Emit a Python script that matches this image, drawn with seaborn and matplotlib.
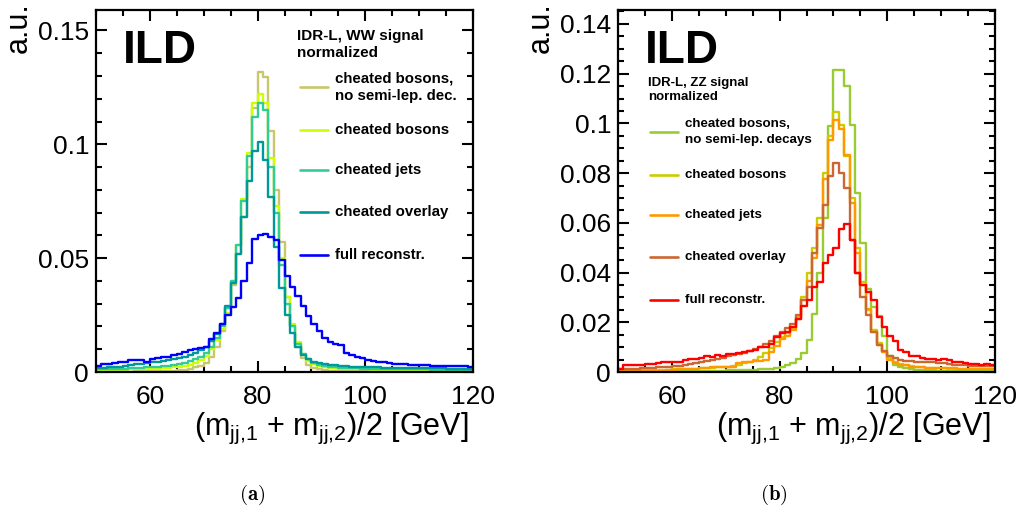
import numpy as np
import pandas as pd
import matplotlib
matplotlib.use("Agg")
import matplotlib.pyplot as plt
from matplotlib.lines import Line2D
from matplotlib.ticker import MultipleLocator, FuncFormatter
import seaborn as sns

# bin lower edges (1 GeV bins from 50 to 120)
bin_edges = list(range(50, 121))

# --- WW signal (panel a) ---
ww_nosemi = [0.0002, 0.0002, 0.0002, 0.0002, 0.0002, 0.0002, 0.0002, 0.0003, 0.0003, 0.0003,
             0.0003, 0.0004, 0.0004, 0.0005, 0.0006, 0.0008, 0.0010, 0.0014, 0.0020, 0.0028,
             0.0040, 0.0065, 0.0110, 0.0180, 0.0280, 0.0380, 0.0520, 0.0680, 0.0900, 0.1160,
             0.1317, 0.1295, 0.1060, 0.0800, 0.0570, 0.0330, 0.0200, 0.0110, 0.0060, 0.0030,
             0.0018, 0.0012, 0.0008, 0.0006, 0.0005, 0.0004, 0.0004, 0.0003, 0.0003, 0.0003,
             0.0003, 0.0003, 0.0003, 0.0003, 0.0003, 0.0003, 0.0003, 0.0003, 0.0003, 0.0003,
             0.0002, 0.0002, 0.0002, 0.0002, 0.0002, 0.0002, 0.0002, 0.0002, 0.0002, 0.0002]
ww_bosons = [0.0008, 0.0008, 0.0009, 0.0009, 0.0010, 0.0010, 0.0011, 0.0011, 0.0012, 0.0013,
             0.0014, 0.0015, 0.0016, 0.0018, 0.0020, 0.0023, 0.0027, 0.0032, 0.0040, 0.0052,
             0.0070, 0.0100, 0.0140, 0.0190, 0.0260, 0.0400, 0.0560, 0.0760, 0.0960, 0.1180,
             0.1222, 0.1180, 0.0940, 0.0730, 0.0500, 0.0330, 0.0210, 0.0130, 0.0080, 0.0050,
             0.0035, 0.0028, 0.0022, 0.0019, 0.0017, 0.0015, 0.0014, 0.0013, 0.0012, 0.0011,
             0.0011, 0.0010, 0.0010, 0.0010, 0.0009, 0.0009, 0.0009, 0.0009, 0.0008, 0.0008,
             0.0008, 0.0008, 0.0008, 0.0008, 0.0007, 0.0007, 0.0007, 0.0007, 0.0007, 0.0007]
ww_jets = [0.0012, 0.0012, 0.0013, 0.0013, 0.0014, 0.0015, 0.0016, 0.0017, 0.0018, 0.0020,
           0.0021, 0.0023, 0.0025, 0.0028, 0.0031, 0.0035, 0.0040, 0.0047, 0.0056, 0.0068,
           0.0085, 0.0110, 0.0150, 0.0200, 0.0280, 0.0400, 0.0560, 0.0750, 0.0950, 0.1120,
           0.1180, 0.1150, 0.0900, 0.0700, 0.0470, 0.0300, 0.0200, 0.0125, 0.0080, 0.0055,
           0.0040, 0.0032, 0.0027, 0.0024, 0.0021, 0.0019, 0.0018, 0.0017, 0.0016, 0.0015,
           0.0014, 0.0014, 0.0013, 0.0013, 0.0013, 0.0012, 0.0012, 0.0012, 0.0011, 0.0011,
           0.0011, 0.0011, 0.0010, 0.0010, 0.0010, 0.0010, 0.0010, 0.0009, 0.0009, 0.0009]
ww_overlay = [0.0018, 0.0018, 0.0020, 0.0022, 0.0024, 0.0027, 0.0030, 0.0033, 0.0036, 0.0040,
              0.0043, 0.0046, 0.0050, 0.0054, 0.0058, 0.0062, 0.0067, 0.0073, 0.0082, 0.0095,
              0.0110, 0.0135, 0.0165, 0.0210, 0.0290, 0.0390, 0.0520, 0.0680, 0.0840, 0.0970,
              0.1010, 0.0930, 0.0770, 0.0550, 0.0370, 0.0250, 0.0170, 0.0110, 0.0075, 0.0055,
              0.0045, 0.0038, 0.0034, 0.0031, 0.0029, 0.0027, 0.0025, 0.0024, 0.0023, 0.0022,
              0.0021, 0.0020, 0.0020, 0.0019, 0.0019, 0.0018, 0.0018, 0.0018, 0.0017, 0.0017,
              0.0017, 0.0016, 0.0016, 0.0016, 0.0016, 0.0015, 0.0015, 0.0015, 0.0015, 0.0015]
ww_full = [0.0028, 0.0035, 0.0037, 0.0038, 0.0045, 0.0045, 0.0052, 0.0053, 0.0052, 0.0046,
           0.0058, 0.0060, 0.0065, 0.0068, 0.0076, 0.0078, 0.0088, 0.0095, 0.0100, 0.0105,
           0.0110, 0.0145, 0.0170, 0.0210, 0.0250, 0.0285, 0.0325, 0.0400, 0.0480, 0.0586,
           0.0600, 0.0608, 0.0595, 0.0580, 0.0490, 0.0420, 0.0375, 0.0335, 0.0290, 0.0245,
           0.0210, 0.0180, 0.0150, 0.0130, 0.0123, 0.0120, 0.0085, 0.0075, 0.0068, 0.0060,
           0.0052, 0.0048, 0.0044, 0.0042, 0.0038, 0.0036, 0.0034, 0.0033, 0.0031, 0.0030,
           0.0030, 0.0029, 0.0027, 0.0028, 0.0026, 0.0027, 0.0025, 0.0026, 0.0025, 0.0024]

# --- ZZ signal (panel b) ---
zz_nosemi = [0.0002, 0.0002, 0.0002, 0.0002, 0.0002, 0.0002, 0.0002, 0.0002, 0.0002, 0.0002,
             0.0002, 0.0003, 0.0003, 0.0003, 0.0004, 0.0004, 0.0005, 0.0005, 0.0006, 0.0006,
             0.0007, 0.0007, 0.0008, 0.0008, 0.0009, 0.0010, 0.0011, 0.0012, 0.0014, 0.0017,
             0.0022, 0.0028, 0.0038, 0.0052, 0.0075, 0.0130, 0.0234, 0.0400, 0.0620, 0.0990,
             0.1215, 0.1215, 0.1150, 0.0995, 0.0720, 0.0520, 0.0335, 0.0260, 0.0227, 0.0146,
             0.0066, 0.0030, 0.0020, 0.0015, 0.0012, 0.0010, 0.0009, 0.0008, 0.0007, 0.0006,
             0.0006, 0.0005, 0.0005, 0.0005, 0.0004, 0.0004, 0.0004, 0.0004, 0.0004, 0.0003]
zz_bosons = [0.0006, 0.0006, 0.0007, 0.0007, 0.0008, 0.0008, 0.0009, 0.0009, 0.0010, 0.0010,
             0.0011, 0.0012, 0.0012, 0.0013, 0.0014, 0.0015, 0.0016, 0.0017, 0.0019, 0.0020,
             0.0022, 0.0025, 0.0030, 0.0036, 0.0042, 0.0050, 0.0060, 0.0075, 0.0095, 0.0120,
             0.0140, 0.0155, 0.0175, 0.0220, 0.0300, 0.0400, 0.0500, 0.0620, 0.0800, 0.0950,
             0.1047, 0.0995, 0.0870, 0.0700, 0.0500, 0.0360, 0.0250, 0.0170, 0.0115, 0.0080,
             0.0055, 0.0040, 0.0032, 0.0027, 0.0024, 0.0021, 0.0019, 0.0018, 0.0017, 0.0016,
             0.0015, 0.0014, 0.0014, 0.0013, 0.0013, 0.0012, 0.0012, 0.0012, 0.0011, 0.0011]
zz_jets = [0.0006, 0.0006, 0.0006, 0.0006, 0.0006, 0.0006, 0.0006, 0.0006, 0.0006, 0.0007,
           0.0010, 0.0012, 0.0013, 0.0013, 0.0014, 0.0015, 0.0016, 0.0019, 0.0019, 0.0020,
           0.0020, 0.0022, 0.0038, 0.0040, 0.0040, 0.0045, 0.0045, 0.0050, 0.0079, 0.0106,
           0.0133, 0.0146, 0.0167, 0.0213, 0.0290, 0.0368, 0.0460, 0.0590, 0.0778, 0.0933,
           0.1013, 0.0978, 0.0872, 0.0680, 0.0480, 0.0350, 0.0253, 0.0160, 0.0110, 0.0079,
           0.0050, 0.0035, 0.0030, 0.0028, 0.0022, 0.0020, 0.0019, 0.0018, 0.0017, 0.0016,
           0.0016, 0.0015, 0.0015, 0.0014, 0.0014, 0.0013, 0.0013, 0.0013, 0.0012, 0.0012]
zz_overlay = [0.0012, 0.0013, 0.0013, 0.0014, 0.0015, 0.0016, 0.0018, 0.0019, 0.0021, 0.0022,
              0.0024, 0.0026, 0.0029, 0.0032, 0.0036, 0.0040, 0.0044, 0.0048, 0.0053, 0.0058,
              0.0063, 0.0068, 0.0072, 0.0078, 0.0085, 0.0092, 0.0100, 0.0112, 0.0125, 0.0146,
              0.0160, 0.0175, 0.0195, 0.0230, 0.0290, 0.0340, 0.0480, 0.0580, 0.0670, 0.0790,
              0.0839, 0.0800, 0.0740, 0.0530, 0.0400, 0.0300, 0.0230, 0.0160, 0.0110, 0.0085,
              0.0065, 0.0055, 0.0050, 0.0046, 0.0044, 0.0042, 0.0040, 0.0040, 0.0039, 0.0038,
              0.0035, 0.0032, 0.0030, 0.0028, 0.0027, 0.0026, 0.0025, 0.0025, 0.0024, 0.0023]
zz_full = [0.0013, 0.0027, 0.0027, 0.0030, 0.0027, 0.0033, 0.0033, 0.0037, 0.0040, 0.0040,
           0.0042, 0.0040, 0.0048, 0.0053, 0.0053, 0.0055, 0.0066, 0.0062, 0.0068, 0.0066,
           0.0073, 0.0072, 0.0075, 0.0080, 0.0086, 0.0088, 0.0100, 0.0102, 0.0113, 0.0140,
           0.0157, 0.0160, 0.0180, 0.0213, 0.0266, 0.0290, 0.0340, 0.0360, 0.0440, 0.0470,
           0.0500, 0.0575, 0.0597, 0.0530, 0.0400, 0.0348, 0.0320, 0.0290, 0.0220, 0.0180,
           0.0146, 0.0126, 0.0090, 0.0079, 0.0066, 0.0066, 0.0055, 0.0053, 0.0053, 0.0050,
           0.0053, 0.0048, 0.0040, 0.0040, 0.0035, 0.0033, 0.0034, 0.0030, 0.0033, 0.0028]

ww_labels = ["cheated bosons,\nno semi-lep. dec.", "cheated bosons", "cheated jets",
             "cheated overlay", "full reconstr."]
zz_labels = ["cheated bosons,\nno semi-lep. decays", "cheated bosons", "cheated jets",
             "cheated overlay", "full reconstr."]
ww_colors = ["#c9c76c", "#ccff00", "#33cc99", "#009999", "#0000ff"]
zz_colors = ["#99cc33", "#cccc00", "#ff9900", "#cc6633", "#ff0000"]

W, H = 1021, 512

sns.set_style("ticks")
plt.rcParams["font.family"] = ["Liberation Sans", "DejaVu Sans"]
plt.rcParams["text.color"] = "black"
plt.rcParams["mathtext.fontset"] = "custom"
plt.rcParams["mathtext.rm"] = "Liberation Sans"
plt.rcParams["mathtext.it"] = "Liberation Sans"

fig = plt.figure(figsize=(W / 100, H / 100), dpi=100)


def px(x, y):
    return x / W, 1 - y / H


def draw_panel(left, series, labels, colors, ymax, ymajor, yminor, header, x_head, y_head,
               head_fs, leg_x, leg_ys, leg_fs, ylab_x, caption):
    ax = fig.add_axes([left / W, 1 - 372 / H, 377 / W, 362 / H])
    centers = np.array(bin_edges[:-1]) + 0.5
    for vals, col in zip(series, colors):
        df = pd.DataFrame({"mass": centers, "w": vals})
        sns.histplot(data=df, x="mass", weights="w", bins=bin_edges, element="step",
                     fill=False, color=col, linewidth=1.7, ax=ax)
    ax.set_xlim(50, 120)
    ax.set_ylim(0, ymax)
    ax.set_xlabel("")
    ax.set_ylabel("")
    ax.xaxis.set_major_locator(MultipleLocator(20))
    ax.xaxis.set_minor_locator(MultipleLocator(5))
    ax.yaxis.set_major_locator(MultipleLocator(ymajor))
    ax.yaxis.set_minor_locator(MultipleLocator(yminor))
    ax.xaxis.set_major_formatter(FuncFormatter(lambda v, p: "" if v < 55 else f"{v:g}"))
    ax.yaxis.set_major_formatter(FuncFormatter(lambda v, p: f"{round(v, 4):g}"))
    ax.tick_params(which="both", direction="in", top=True, right=True, width=1.5,
                   labelsize=19, colors="black")
    ax.tick_params(which="major", length=8)
    ax.tick_params(which="minor", length=4)
    ax.tick_params(axis="x", pad=9)
    ax.tick_params(axis="y", pad=5)
    for s in ax.spines.values():
        s.set_linewidth(1.6)
        s.set_color("black")

    # ILD label and header
    fig.text(*px(left + 27, 63), "ILD", fontsize=33, fontweight="bold", ha="left",
             va="baseline")
    fig.text(*px(x_head, y_head), header, fontsize=head_fs, fontweight="bold",
             ha="left", va="top", linespacing=1.25)
    # legend entries
    for lab, col, yy in zip(labels, colors, leg_ys):
        x0, y0 = px(leg_x, yy)
        x1, _ = px(leg_x + 28, yy)
        fig.add_artist(Line2D([x0, x1], [y0, y0], color=col, linewidth=1.9,
                              transform=fig.transFigure))
        fig.text(*px(leg_x + 35, yy), lab, fontsize=leg_fs, fontweight="bold",
                 ha="left", va="center", linespacing=1.35)

    # axis titles
    fig.text(*px(left + 377 - 4, 428), r"(m$_{\rm jj{,}1}$ + m$_{\rm jj{,}2}$)/2 [GeV]",
             fontsize=22, ha="right", va="center")
    fig.text(*px(ylab_x, 2), "a.u.", fontsize=22, rotation=90, ha="center", va="top")
    fig.text(*px(left + 156, 495), r"$\mathbf{(" + caption + r")}$", fontsize=15,
             ha="center", va="center", math_fontfamily="cm")
    return ax


draw_panel(96, [ww_nosemi, ww_bosons, ww_jets, ww_overlay, ww_full], ww_labels, ww_colors,
           0.159, 0.05, 0.01, "IDR-L, WW signal\nnormalized", 297, 29, 11,
           300, [87, 130, 170, 212, 255], 10.8, 19, "a")
draw_panel(618, [zz_nosemi, zz_bosons, zz_jets, zz_overlay, zz_full], zz_labels, zz_colors,
           0.1456, 0.02, 0.005, "IDR-L, ZZ signal\nnormalized", 648, 77, 9.5,
           650, [132, 175, 215, 257, 300], 9.6, 541, "b")

fig.savefig("out.png", dpi=100)
